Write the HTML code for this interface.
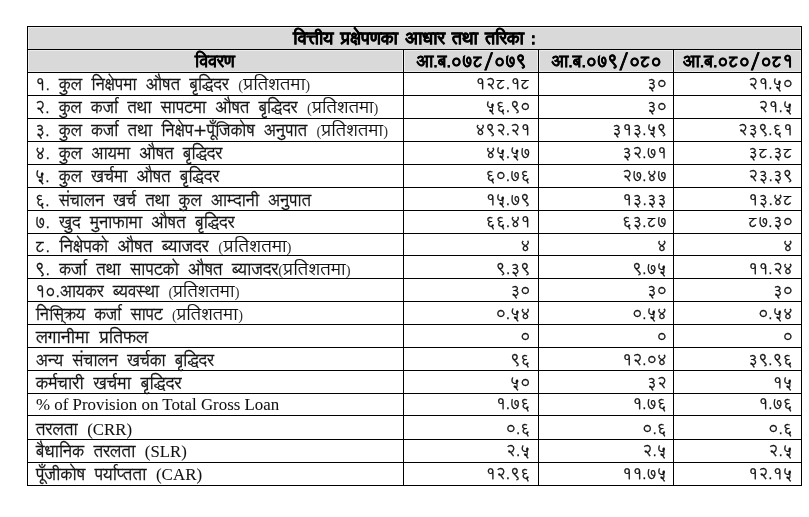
<!DOCTYPE html><html lang="ne"><head><meta charset="utf-8"><style>
*{margin:0;padding:0;box-sizing:border-box}
html,body{width:809px;height:517px;background:#fff;overflow:hidden}
body{position:relative;font-family:"Lohit Devanagari","Liberation Sans",sans-serif;color:#111;-webkit-text-stroke:0.3px #111}
.h{position:absolute;height:1px;background:#000;left:27px;width:775px}
.v{position:absolute;width:1px;background:#000}
.g{position:absolute;background:#d9d9d9}
.gl{position:absolute;background:#ececec}
.t{position:absolute;white-space:nowrap;font-size:16px;line-height:20px;transform-origin:0 0}
.r{position:absolute;white-space:nowrap;font-size:15.7px;line-height:20px;text-align:right}
.b{font-weight:bold;font-size:17px;word-spacing:2px;-webkit-text-stroke:0.6px #000}
.hd{-webkit-text-stroke:0.35px #000;font-size:16.6px}
.lat{font-family:"Liberation Serif",serif;font-size:16.6px;word-spacing:0;-webkit-text-stroke:0.05px #111}
.p{font-family:"Lohit Devanagari",serif;font-size:16px;word-spacing:0;-webkit-text-stroke:0.1px #111}
.pp{font-family:"Liberation Serif",serif;font-size:14.5px;-webkit-text-stroke:0;color:#333}
.pd{display:inline-block;transform:scaleX(1.11);transform-origin:0 0;margin-right:6.2px}
</style></head><body>
<div class="gl" style="left:28px;top:27px;width:773px;height:45px"></div>
<div class="g" style="left:29px;top:28px;width:771px;height:21px"></div>
<div class="g" style="left:29px;top:51px;width:373px;height:20px"></div>
<div class="g" style="left:405px;top:51px;width:132px;height:20px"></div>
<div class="g" style="left:540px;top:51px;width:132px;height:20px"></div>
<div class="g" style="left:675px;top:51px;width:125px;height:20px"></div>
<div class="h" style="top:26px"></div>
<div class="h" style="top:49px"></div>
<div class="h" style="top:72px"></div>
<div class="h" style="top:95px"></div>
<div class="h" style="top:118px"></div>
<div class="h" style="top:141px"></div>
<div class="h" style="top:164px"></div>
<div class="h" style="top:187px"></div>
<div class="h" style="top:210px"></div>
<div class="h" style="top:233px"></div>
<div class="h" style="top:255px"></div>
<div class="h" style="top:278px"></div>
<div class="h" style="top:301px"></div>
<div class="h" style="top:324px"></div>
<div class="h" style="top:347px"></div>
<div class="h" style="top:370px"></div>
<div class="h" style="top:393px"></div>
<div class="h" style="top:415px"></div>
<div class="h" style="top:439px"></div>
<div class="h" style="top:462px"></div>
<div class="h" style="top:485px"></div>
<div class="v" style="left:27px;top:26px;height:460px"></div>
<div class="v" style="left:801px;top:26px;height:460px"></div>
<div class="v" style="left:403px;top:49px;height:437px"></div>
<div class="v" style="left:538px;top:49px;height:437px"></div>
<div class="v" style="left:673px;top:49px;height:437px"></div>
<div class="t b" style="left:27px;width:775px;text-align:center;top:29px">वित्तीय प्रक्षेपणका आधार तथा तरिका :</div>
<div class="t b hd" style="left:27px;width:376px;text-align:center;top:52px">विवरण</div>
<div class="t b hd" style="left:404px;width:135px;text-align:center;top:52px">आ.ब.०७८/०७९</div>
<div class="t b hd" style="left:539px;width:135px;text-align:center;top:52px">आ.ब.०७९/०८०</div>
<div class="t b hd" style="left:674px;width:128px;text-align:center;top:52px">आ.ब.०८०/०८१</div>
<div class="t" style="left:35px;top:75px;word-spacing:4.40px;transform:scaleX(1.0007)">१. कुल निक्षेपमा औषत बृद्धिदर <span class="p"><span class="pp">(</span><span class="pd">प्रतिशतमा</span><span class="pp">)</span></span></div>
<div class="r" style="right:278.5px;top:75px">१२८.१८</div>
<div class="r" style="right:142px;top:75px">३०</div>
<div class="r" style="right:16px;top:75px">२१.५०</div>
<div class="t" style="left:35px;top:98px;word-spacing:4.40px;transform:scaleX(0.9930)">२. कुल कर्जा तथा सापटमा औषत बृद्धिदर <span class="p"><span class="pp">(</span><span class="pd">प्रतिशतमा</span><span class="pp">)</span></span></div>
<div class="r" style="right:278.5px;top:98px">५६.९०</div>
<div class="r" style="right:142px;top:98px">३०</div>
<div class="r" style="right:16px;top:98px">२१.५</div>
<div class="t" style="left:35px;top:121px;word-spacing:4.40px;transform:scaleX(0.9972)">३. कुल कर्जा तथा निक्षेप+पूँजिकोष अनुपात <span class="p"><span class="pp">(</span><span class="pd">प्रतिशतमा</span><span class="pp">)</span></span></div>
<div class="r" style="right:278.5px;top:121px">४९२.२१</div>
<div class="r" style="right:142px;top:121px">३१३.५९</div>
<div class="r" style="right:16px;top:121px">२३९.६१</div>
<div class="t" style="left:35px;top:144px;word-spacing:4.40px;transform:scaleX(1.0000)">४. कुल आयमा औषत बृद्धिदर</div>
<div class="r" style="right:278.5px;top:144px">४५.५७</div>
<div class="r" style="right:142px;top:144px">३२.७१</div>
<div class="r" style="right:16px;top:144px">३८.३८</div>
<div class="t" style="left:35px;top:167px;word-spacing:4.40px;transform:scaleX(0.9979)">५. कुल खर्चमा औषत बृद्धिदर</div>
<div class="r" style="right:278.5px;top:167px">६०.७६</div>
<div class="r" style="right:142px;top:167px">२७.४७</div>
<div class="r" style="right:16px;top:167px">२३.३९</div>
<div class="t" style="left:35px;top:191px;word-spacing:4.40px;transform:scaleX(0.9921)">६. संचालन खर्च तथा कुल आम्दानी अनुपात</div>
<div class="r" style="right:278.5px;top:191px">१५.७९</div>
<div class="r" style="right:142px;top:191px">१३.३३</div>
<div class="r" style="right:16px;top:191px">१३.४८</div>
<div class="t" style="left:35px;top:213px;word-spacing:4.40px;transform:scaleX(1.0051)">७. खुद मुनाफामा औषत बृद्धिदर</div>
<div class="r" style="right:278.5px;top:213px">६६.४१</div>
<div class="r" style="right:142px;top:213px">६३.८७</div>
<div class="r" style="right:16px;top:213px">८७.३०</div>
<div class="t" style="left:35px;top:237px;word-spacing:4.40px;transform:scaleX(1.0192)">८. निक्षेपको औषत ब्याजदर <span class="p"><span class="pp">(</span><span class="pd">प्रतिशतमा</span><span class="pp">)</span></span></div>
<div class="r" style="right:278.5px;top:237px">४</div>
<div class="r" style="right:142px;top:237px">४</div>
<div class="r" style="right:16px;top:237px">४</div>
<div class="t" style="left:35px;top:260px;word-spacing:4.40px;transform:scaleX(1.0084)">९. कर्जा तथा सापटको औषत ब्याजदर<span class="p"><span class="pp">(</span><span class="pd">प्रतिशतमा</span><span class="pp">)</span></span></div>
<div class="r" style="right:278.5px;top:260px">९.३९</div>
<div class="r" style="right:142px;top:260px">९.७५</div>
<div class="r" style="right:16px;top:260px">११.२४</div>
<div class="t" style="left:35px;top:282px;word-spacing:4.40px;transform:scaleX(0.9922)">१०.आयकर ब्यवस्था <span class="p"><span class="pp">(</span><span class="pd">प्रतिशतमा</span><span class="pp">)</span></span></div>
<div class="r" style="right:278.5px;top:282px">३०</div>
<div class="r" style="right:142px;top:282px">३०</div>
<div class="r" style="right:16px;top:282px">३०</div>
<div class="t" style="left:36px;top:305px;word-spacing:4.40px;transform:scaleX(0.9886)">निस्क्रिय कर्जा सापट <span class="p"><span class="pp">(</span><span class="pd">प्रतिशतमा</span><span class="pp">)</span></span></div>
<div class="r" style="right:278.5px;top:305px">०.५४</div>
<div class="r" style="right:142px;top:305px">०.५४</div>
<div class="r" style="right:16px;top:305px">०.५४</div>
<div class="t" style="left:36px;top:328px;word-spacing:4.40px;transform:scaleX(1.0630)">लगानीमा प्रतिफल</div>
<div class="r" style="right:278.5px;top:328px">०</div>
<div class="r" style="right:142px;top:328px">०</div>
<div class="r" style="right:16px;top:328px">०</div>
<div class="t" style="left:36px;top:351px;word-spacing:4.40px;transform:scaleX(0.9933)">अन्य संचालन खर्चका बृद्धिदर</div>
<div class="r" style="right:278.5px;top:351px">९६</div>
<div class="r" style="right:142px;top:351px">१२.०४</div>
<div class="r" style="right:16px;top:351px">३९.९६</div>
<div class="t" style="left:36px;top:374px;word-spacing:4.40px;transform:scaleX(1.0418)">कर्मचारी खर्चमा बृद्धिदर</div>
<div class="r" style="right:278.5px;top:374px">५०</div>
<div class="r" style="right:142px;top:374px">३२</div>
<div class="r" style="right:16px;top:374px">१५</div>
<div class="t" style="left:36px;top:395px;word-spacing:4.40px;transform:scaleX(1.0169)"><span class=lat>% of Provision on Total Gross Loan</span></div>
<div class="r" style="right:278.5px;top:395px">१.७६</div>
<div class="r" style="right:142px;top:395px">१.७६</div>
<div class="r" style="right:16px;top:395px">१.७६</div>
<div class="t" style="left:36px;top:420px;word-spacing:4.40px;transform:scaleX(1.0111)">तरलता <span class=lat>(CRR)</span></div>
<div class="r" style="right:278.5px;top:420px">०.६</div>
<div class="r" style="right:142px;top:420px">०.६</div>
<div class="r" style="right:16px;top:420px">०.६</div>
<div class="t" style="left:36px;top:442px;word-spacing:4.40px;transform:scaleX(1.0109)">बैधानिक तरलता <span class=lat>(SLR)</span></div>
<div class="r" style="right:278.5px;top:442px">२.५</div>
<div class="r" style="right:142px;top:442px">२.५</div>
<div class="r" style="right:16px;top:442px">२.५</div>
<div class="t" style="left:36px;top:465px;word-spacing:4.40px;transform:scaleX(1.0224)">पूँजीकोष पर्याप्‍तता <span class=lat>(CAR)</span></div>
<div class="r" style="right:278.5px;top:465px">१२.९६</div>
<div class="r" style="right:142px;top:465px">११.७५</div>
<div class="r" style="right:16px;top:465px">१२.१५</div>
</body></html>
